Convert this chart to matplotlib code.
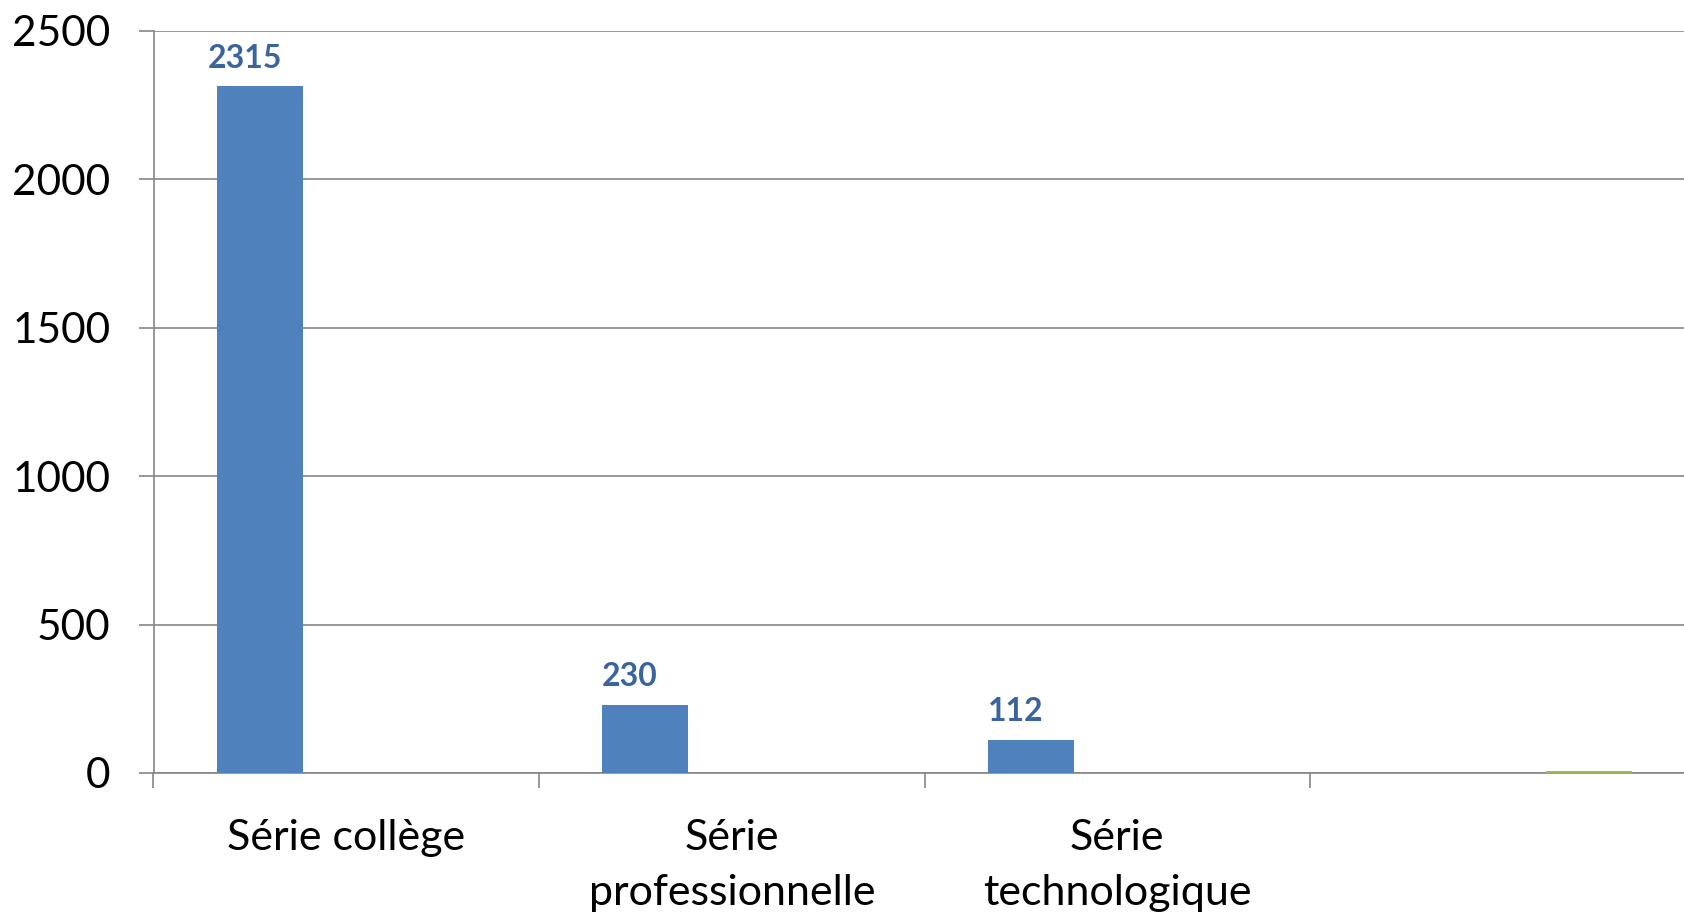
import matplotlib
matplotlib.use("Agg")
import matplotlib.pyplot as plt
import numpy as np

categories = ["Série collège", "Série\nprofessionnelle", "Série\ntechnologique", ""]
series_blue = [2315, 230, 112, 0]
series_red = [0, 0, 0, 0]
series_green = [0, 0, 0, 8]
blue_labels = ["2315", "230", "112", ""]
y_ticks = [0, 500, 1000, 1500, 2000, 2500]

plt.rcParams['font.family'] = ['Lato', 'DejaVu Sans']

W, H = 1684, 916
fig = plt.figure(figsize=(W / 100, H / 100), dpi=100)
left_px, right_px, top_px, bot_px = 153.5, 1695.5, 31, 773
ax = fig.add_axes([left_px / W, 1 - bot_px / H, (right_px - left_px) / W, (bot_px - top_px) / H])

x = np.arange(len(categories))
bw = 0.223
off = 0.224
ax.bar(x - off, series_blue, width=bw, color="#4F81BD", zorder=3)
ax.bar(x, series_red, width=bw, color="#C0504D", zorder=3)
ax.bar(x + off, series_green, width=bw, color="#9BBB59", zorder=4)

for xi, v, lab in zip(x, series_blue, blue_labels):
    if lab:
        ax.text(xi - off - 0.04, v + 45, lab, ha="center", va="bottom", fontsize=23,
                fontweight="bold", color="#3A659C")

ax.set_xlim(-0.5, len(categories) - 0.5)
ax.set_ylim(0, 2500)
ax.set_yticks(y_ticks)
ax.set_yticklabels([str(t) for t in y_ticks], fontsize=30.5)
ax.tick_params(axis="y", length=11, width=1.2, color="#868686", pad=20)

ax.set_xticks(np.arange(len(categories) + 1) - 0.5)
ax.set_xticklabels([])
ax.tick_params(axis="x", length=11, width=1.2, color="#868686")
for xi, lab in zip(x, categories):
    ax.text(xi, -0.062, lab, transform=ax.get_xaxis_transform(), ha="center", va="top",
            fontsize=31, linespacing=1.55)

ax.grid(axis="y", color="#868686", linewidth=1.2, zorder=0)
for s in ["top", "right"]:
    ax.spines[s].set_visible(False)
for s in ["left", "bottom"]:
    ax.spines[s].set_color("#868686")
    ax.spines[s].set_linewidth(1.2)
ax.spines["bottom"].set_zorder(2)

fig.savefig("out.png", dpi=100)
